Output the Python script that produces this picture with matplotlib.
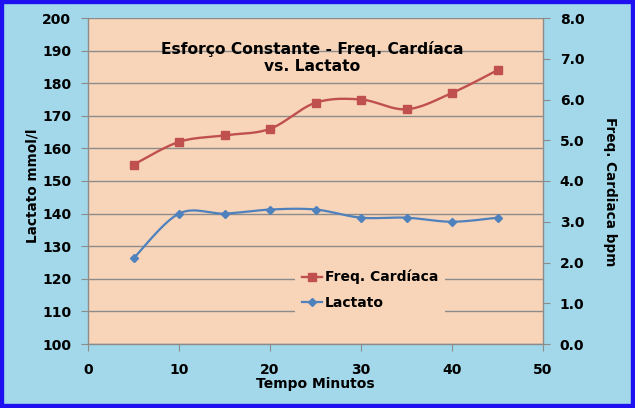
import matplotlib
matplotlib.use("Agg")
import matplotlib.pyplot as plt
import numpy as np
from matplotlib.lines import Line2D
from matplotlib.patches import Rectangle

plt.rcParams['font.family'] = ['DejaVu Sans']
plt.rcParams['font.weight'] = 'bold'

tempo = [5, 10, 15, 20, 25, 30, 35, 40, 45]
freq_cardiaca = [155, 162, 164, 166, 174, 175, 172, 177, 184]
lactato = [2.1, 3.2, 3.2, 3.3, 3.3, 3.1, 3.1, 3.0, 3.1]

FUNDO = '#A2D8EA'
AREA = '#F8D5B8'
BORDA = '#1E10F0'
VERMELHO = '#C0504D'
AZUL = '#4F81BD'
CINZA = '#8C8C8C'


def suavizar(x, y, n=30):
    # curva suave tipo Excel (Catmull-Rom em bezier)
    x = np.asarray(x, float)
    y = np.asarray(y, float)
    px, py = [], []
    for i in range(len(x) - 1):
        i0 = max(i - 1, 0)
        i3 = min(i + 2, len(x) - 1)
        c1x = x[i] + (x[i + 1] - x[i0]) / 6
        c1y = y[i] + (y[i + 1] - y[i0]) / 6
        c2x = x[i + 1] - (x[i3] - x[i]) / 6
        c2y = y[i + 1] - (y[i3] - y[i]) / 6
        t = np.linspace(0, 1, n)
        px.append((1-t)**3*x[i] + 3*(1-t)**2*t*c1x + 3*(1-t)*t**2*c2x + t**3*x[i+1])
        py.append((1-t)**3*y[i] + 3*(1-t)**2*t*c1y + 3*(1-t)*t**2*c2y + t**3*y[i+1])
    return np.concatenate(px), np.concatenate(py)


fig = plt.figure(figsize=(6.35, 4.08), dpi=100)
fig.patch.set_facecolor(FUNDO)
fig.patches.append(Rectangle((0, 0), 1, 1, transform=fig.transFigure,
                             fill=False, edgecolor=BORDA, linewidth=6))

ax = fig.add_axes([88/635, 64/408, 455/635, 326/408])
ax.set_facecolor(AREA)
ax2 = ax.twinx()

sx, sy = suavizar(tempo, freq_cardiaca)
ax.plot(sx, sy, color=VERMELHO, lw=1.7)
ax.plot(tempo, freq_cardiaca, ls='none', marker='s', ms=6, color=VERMELHO)

bx, by = suavizar(tempo, lactato)
ax2.plot(bx, by, color=AZUL, lw=1.6)
ax2.plot(tempo, lactato, ls='none', marker='D', ms=4.5, color=AZUL)

ax.set_xlim(0, 50)
ax.set_ylim(100, 200)
ax2.set_ylim(0, 8)
ax.set_xticks(range(0, 51, 10))
ax.set_yticks(range(100, 201, 10))
ax2.set_yticks(np.arange(0, 8.1, 1))
ax2.set_yticklabels([f'{v:.1f}' for v in np.arange(0, 8.1, 1)])

ax.yaxis.grid(True, color=CINZA, lw=1)
ax.set_axisbelow(True)

for a in (ax, ax2):
    for s in a.spines.values():
        s.set_visible(False)
ax.spines['left'].set_visible(True)
ax.spines['bottom'].set_visible(True)
ax2.spines['right'].set_visible(True)
for s in (ax.spines['left'], ax.spines['bottom'], ax2.spines['right']):
    s.set_color(CINZA)
    s.set_linewidth(1)

ax.tick_params(axis='y', colors=CINZA, labelcolor='black', labelsize=10, length=5, pad=7)
ax.tick_params(axis='x', colors=CINZA, labelcolor='black', labelsize=10, length=5, pad=9)
ax2.tick_params(axis='y', colors=CINZA, labelcolor='black', labelsize=10, length=5, pad=7)
for lab in ax.get_xticklabels() + ax.get_yticklabels() + ax2.get_yticklabels():
    lab.set_fontweight('bold')

ax.set_xlabel('Tempo Minutos', fontsize=10, fontweight='bold', va='center')
ax.xaxis.set_label_coords(0.5, (344 - 384) / 326)
ax.set_ylabel('Lactato mmol/l', fontsize=9.8, fontweight='bold', va='center')
ax.yaxis.set_label_coords(-0.123, 0.485)
ax2.set_ylabel('Freq. Cardiaca bpm', fontsize=9.8, fontweight='bold', rotation=270, va='center')
ax2.yaxis.set_label_coords(1.147, 0.466)

ax.text(0.493, 0.879, 'Esforço Constante - Freq. Cardíaca\nvs. Lactato', transform=ax.transAxes,
        ha='center', va='center', fontsize=11.2, fontweight='bold', linespacing=1.1)

handles = [Line2D([], [], color=VERMELHO, lw=1.7, marker='s', ms=6),
           Line2D([], [], color=AZUL, lw=1.6, marker='D', ms=4.5)]
leg = ax2.legend(handles, ['Freq. Cardíaca', 'Lactato'], loc='upper left',
                 bbox_to_anchor=((295 - 88) / 455, (344 - 263) / 326), borderaxespad=0,
                 frameon=True, handlelength=1.45, handletextpad=0.2, labelspacing=0.85,
                 borderpad=0.5, prop={'weight': 'bold', 'size': 10})
leg.get_frame().set_facecolor(AREA)
leg.get_frame().set_edgecolor('none')
leg.get_frame().set_alpha(1)
leg.get_frame().set_boxstyle('square', pad=0)

fig.savefig('out.png', dpi=100, facecolor=fig.get_facecolor())
